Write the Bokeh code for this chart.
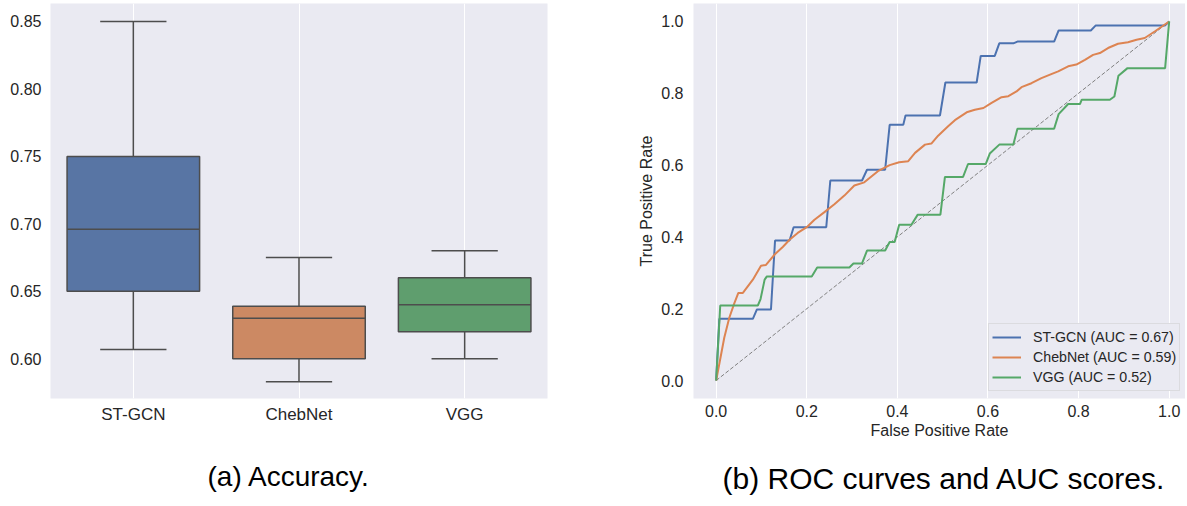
from bokeh.plotting import figure
from bokeh.models import (Range1d, FixedTicker, Legend, LegendItem, Title,
                          PrintfTickFormatter)
from bokeh.layouts import row
from bokeh.embed import file_html
from bokeh.resources import INLINE
import numpy as np

FONT = "Liberation Sans"
BG = "#eaeaf2"
TXT = "#262626"

# ---------------- (a) Accuracy box plot data ----------------
models = ["ST-GCN", "ChebNet", "VGG"]
acc_whisker_low = [0.607, 0.583, 0.600]
acc_q1 = [0.650, 0.600, 0.620]
acc_median = [0.696, 0.630, 0.640]
acc_q3 = [0.750, 0.639, 0.660]
acc_whisker_high = [0.850, 0.675, 0.680]
acc_ticks = [0.60, 0.65, 0.70, 0.75, 0.80, 0.85]
box_colors = ["#5875a4", "#cc8963", "#5f9e6e"]

# ---------------- (b) ROC data ----------------
stgcn_fpr = [0, 0.007, 0.081, 0.090, 0.121, 0.130, 0.162, 0.171, 0.243, 0.252, 0.322, 0.333,
             0.373, 0.383, 0.413, 0.418, 0.494, 0.506, 0.575, 0.584, 0.615, 0.625, 0.656, 0.665,
             0.746, 0.756, 0.827, 0.838, 0.991, 1.0]
stgcn_tpr = [0, 0.172, 0.172, 0.198, 0.198, 0.390, 0.390, 0.427, 0.427, 0.557, 0.557, 0.587,
             0.587, 0.712, 0.712, 0.738, 0.738, 0.830, 0.830, 0.904, 0.904, 0.939, 0.939, 0.944,
             0.944, 0.975, 0.975, 0.989, 0.989, 1.0]

chebnet_fpr = [0, 0.018, 0.029, 0.040, 0.049, 0.059, 0.081, 0.099, 0.110, 0.129, 0.147, 0.162,
               0.180, 0.200, 0.217, 0.239, 0.261, 0.283, 0.305, 0.327, 0.357, 0.383, 0.404, 0.424,
               0.439, 0.461, 0.475, 0.490, 0.512, 0.527, 0.553, 0.571, 0.590, 0.608, 0.630, 0.645,
               0.663, 0.674, 0.696, 0.718, 0.737, 0.755, 0.777, 0.795, 0.814, 0.832, 0.847, 0.865,
               0.887, 0.909, 0.928, 0.946, 0.968, 1.0]
chebnet_tpr = [0, 0.120, 0.175, 0.215, 0.244, 0.244, 0.281, 0.320, 0.322, 0.351, 0.372, 0.392,
               0.411, 0.427, 0.448, 0.469, 0.491, 0.515, 0.543, 0.552, 0.583, 0.600, 0.608, 0.611,
               0.634, 0.657, 0.660, 0.682, 0.708, 0.725, 0.747, 0.754, 0.759, 0.773, 0.789, 0.792,
               0.805, 0.817, 0.828, 0.842, 0.852, 0.861, 0.875, 0.880, 0.893, 0.907, 0.912, 0.926,
               0.938, 0.942, 0.949, 0.954, 0.972, 1.0]

vgg_fpr = [0, 0.009, 0.092, 0.098, 0.107, 0.112, 0.211, 0.223, 0.294, 0.303, 0.322, 0.333,
           0.373, 0.383, 0.394, 0.404, 0.431, 0.445, 0.495, 0.505, 0.545, 0.556, 0.595, 0.604,
           0.625, 0.656, 0.665, 0.746, 0.756, 0.777, 0.803, 0.807, 0.869, 0.879, 0.888, 0.908,
           0.991, 1.0]
vgg_tpr = [0, 0.209, 0.209, 0.227, 0.281, 0.290, 0.290, 0.315, 0.315, 0.326, 0.326, 0.362,
           0.362, 0.386, 0.386, 0.434, 0.434, 0.462, 0.462, 0.567, 0.567, 0.603, 0.603, 0.632,
           0.657, 0.657, 0.701, 0.701, 0.742, 0.770, 0.770, 0.782, 0.782, 0.791, 0.849, 0.870,
           0.870, 1.0]

chance_fpr = [0, 1]
chance_tpr = [0, 1]

roc_ticks = [0.0, 0.2, 0.4, 0.6, 0.8, 1.0]
roc_labels = ["ST-GCN (AUC = 0.67)", "ChebNet (AUC = 0.59)", "VGG (AUC = 0.52)"]
roc_colors = ["#4c72b0", "#dd8452", "#55a868"]

captions = ["(a) Accuracy.", "(b) ROC curves and AUC scores."]

BOTTOM = 108          # border under each plot frame (axis + caption)


def style_axes(p, size):
    for ax in (p.xaxis[0], p.yaxis[0]):
        ax.axis_line_color = None
        ax.major_tick_line_color = None
        ax.minor_tick_line_color = None
        ax.major_tick_out = 0
        ax.major_tick_in = 0
        ax.minor_tick_out = 0
        ax.minor_tick_in = 0
        ax.major_label_text_font = FONT
        ax.major_label_text_font_size = size
        ax.major_label_text_color = TXT
        ax.axis_label_text_font = FONT
        ax.axis_label_text_font_style = "normal"
        ax.axis_label_text_color = TXT
    p.xgrid.grid_line_color = "white"
    p.xgrid.grid_line_width = 1
    p.ygrid.grid_line_color = None


# ---------------- left figure ----------------
p1 = figure(frame_width=497, frame_height=395,
            x_range=Range1d(-0.5, 2.5), y_range=Range1d(0.5706, 0.8633),
            output_backend="svg", toolbar_location=None,
            min_border_left=50, min_border_right=53, min_border_top=3, min_border_bottom=BOTTOM,
            background_fill_color=BG, outline_line_color=None)
style_axes(p1, "16px")
xs = np.arange(len(models))
p1.xaxis.ticker = FixedTicker(ticks=list(xs))
p1.xaxis.major_label_overrides = {int(i): m for i, m in zip(xs, models)}
p1.xaxis.major_label_text_font_size = "17px"
p1.xaxis.major_label_standoff = 6
p1.yaxis.ticker = FixedTicker(ticks=acc_ticks)
p1.yaxis.formatter = PrintfTickFormatter(format="%.2f")
p1.yaxis.major_label_standoff = 9
p1.xgrid.ticker = FixedTicker(ticks=list(xs))

EDGE = "#4d4d4d"
lo = np.array(acc_whisker_low); hi = np.array(acc_whisker_high)
q1 = np.array(acc_q1); q3 = np.array(acc_q3); md = np.array(acc_median)
p1.segment(x0=xs, y0=q3, x1=xs, y1=hi, line_color=EDGE, line_width=1.5)
p1.segment(x0=xs, y0=q1, x1=xs, y1=lo, line_color=EDGE, line_width=1.5)
p1.segment(x0=xs - 0.2, y0=hi, x1=xs + 0.2, y1=hi, line_color=EDGE, line_width=1.5)
p1.segment(x0=xs - 0.2, y0=lo, x1=xs + 0.2, y1=lo, line_color=EDGE, line_width=1.5)
p1.vbar(x=xs, width=0.8, bottom=q1, top=q3, fill_color=box_colors, line_color=EDGE, line_width=1.5)
p1.segment(x0=xs - 0.4, y0=md, x1=xs + 0.4, y1=md, line_color=EDGE, line_width=1.5)

p1.add_layout(Title(text=captions[0], align="left", offset=157, standoff=64,
                    text_font=FONT, text_font_size="28px", text_font_style="normal",
                    text_color="black"), "below")

# ---------------- right figure ----------------
p2 = figure(frame_width=492, frame_height=395,
            x_range=Range1d(-0.05, 1.036), y_range=Range1d(-0.05, 1.05),
            output_backend="svg", toolbar_location=None,
            min_border_left=93, min_border_right=0, min_border_top=3, min_border_bottom=BOTTOM,
            background_fill_color=BG, outline_line_color=None)
style_axes(p2, "16px")
p2.xaxis.ticker = FixedTicker(ticks=roc_ticks)
p2.yaxis.ticker = FixedTicker(ticks=roc_ticks)
p2.xaxis.formatter = PrintfTickFormatter(format="%.1f")
p2.yaxis.formatter = PrintfTickFormatter(format="%.1f")
p2.xgrid.ticker = FixedTicker(ticks=roc_ticks)
p2.xaxis.major_label_standoff = 6
p2.yaxis.major_label_standoff = 10
p2.xaxis.axis_label = "False Positive Rate"
p2.yaxis.axis_label = "True Positive Rate"
p2.xaxis.axis_label_text_font_size = "16px"
p2.yaxis.axis_label_text_font_size = "16px"
p2.xaxis.axis_label_standoff = 2
p2.yaxis.axis_label_standoff = 3

p2.line(chance_fpr, chance_tpr, line_color="#808080", line_width=1, line_dash="4 2")
r1 = p2.line(stgcn_fpr, stgcn_tpr, line_color=roc_colors[0], line_width=2)
r2 = p2.line(chebnet_fpr, chebnet_tpr, line_color=roc_colors[1], line_width=2)
r3 = p2.line(vgg_fpr, vgg_tpr, line_color=roc_colors[2], line_width=2)

legend = Legend(items=[LegendItem(label=roc_labels[0], renderers=[r1]),
                       LegendItem(label=roc_labels[1], renderers=[r2]),
                       LegendItem(label=roc_labels[2], renderers=[r3])],
                location=(295, 7), margin=0, padding=3, spacing=0,
                label_height=20, glyph_height=20, glyph_width=29, label_standoff=12,
                label_text_font=FONT, label_text_font_size="14.2px", label_text_color=TXT,
                background_fill_color=BG, background_fill_alpha=1.0,
                border_line_color="#cccccc", border_line_width=1)
p2.add_layout(legend)

p2.add_layout(Title(text=captions[1], align="left", offset=29, standoff=37,
                    text_font=FONT, text_font_size="30px", text_font_style="normal",
                    text_color="black"), "below")

layout = row(p1, p2)
open("out.html", "w").write(file_html(layout, INLINE))
